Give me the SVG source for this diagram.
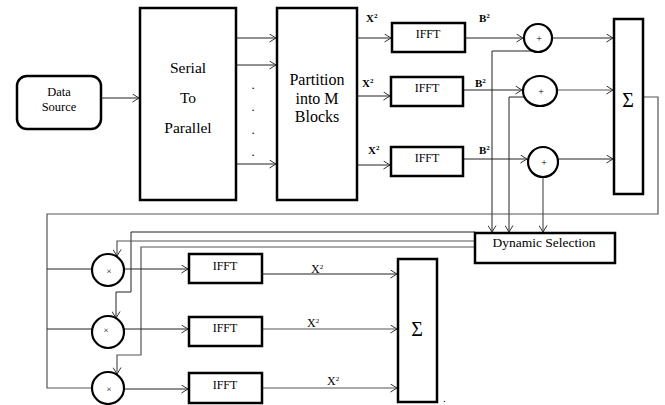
<svg xmlns="http://www.w3.org/2000/svg" width="665" height="405" viewBox="0 0 665 405">
<style>
.box{fill:#fff;stroke:#000;stroke-width:2.5}
.c{fill:#fff;stroke:#000;stroke-width:2.2}
.t{font-family:'Liberation Serif','DejaVu Serif',serif;fill:#000;text-anchor:middle}
.ln{fill:none;stroke:#222;stroke-width:1}
.gl{fill:none;stroke:#555;stroke-width:1.2}
.lb{font-family:'Liberation Serif','DejaVu Serif',serif;fill:#000}
</style>
<defs>
<marker id="a" markerWidth="9" markerHeight="9" refX="7.5" refY="4.5" orient="auto" markerUnits="userSpaceOnUse">
<path d="M1,0.5 L7.5,4.5 L1,8.5" fill="none" stroke="#333" stroke-width="1"/>
</marker>
</defs>
<g id="connectors">
<line class="ln" x1="101" y1="98" x2="139" y2="98" marker-end="url(#a)"/>
<line class="ln" x1="236" y1="38" x2="276" y2="38" marker-end="url(#a)"/>
<line class="ln" x1="236" y1="65" x2="276" y2="65" marker-end="url(#a)"/>
<line class="ln" x1="236" y1="164" x2="276" y2="164" marker-end="url(#a)"/>
<line class="ln" x1="357" y1="38" x2="391" y2="38" marker-end="url(#a)"/>
<line class="ln" x1="357" y1="96" x2="390" y2="96" marker-end="url(#a)"/>
<line class="ln" x1="357" y1="165" x2="390" y2="165" marker-end="url(#a)"/>
<line class="ln" x1="465" y1="38" x2="523" y2="38" marker-end="url(#a)"/>
<line class="ln" x1="463" y1="90" x2="522" y2="90" marker-end="url(#a)"/>
<line class="ln" x1="463" y1="159" x2="527" y2="159" marker-end="url(#a)"/>
<line class="ln" x1="552" y1="38" x2="613" y2="38" marker-end="url(#a)"/>
<line class="gl" x1="557" y1="90" x2="613" y2="90" marker-end="url(#a)"/>
<line class="ln" x1="558" y1="159" x2="613" y2="159" marker-end="url(#a)"/>
<polyline class="ln" points="533,51 492,51 492,232" marker-end="url(#a)"/>
<polyline class="ln" points="524,97 509,97 509,232" marker-end="url(#a)"/>
<polyline class="gl" points="543,177 543,232" marker-end="url(#a)"/>
<polyline class="gl" points="643,97 658,97 658,214 47,214 47,388 92,388"/>
<line class="ln" x1="47" y1="269" x2="92" y2="269"/>
<line class="ln" x1="47" y1="329" x2="92" y2="329"/>
<polyline class="ln" points="475,232 131,232 131,292 116,292 116,318" marker-end="url(#a)"/>
<polyline class="gl" points="475,241 117,241 117,256" marker-end="url(#a)"/>
<polyline class="gl" points="475,247 141,247 141,355 117,355 117,374" marker-end="url(#a)"/>
<line class="ln" x1="124" y1="269" x2="188" y2="269" marker-end="url(#a)"/>
<line class="ln" x1="124" y1="329" x2="188" y2="329" marker-end="url(#a)"/>
<line class="ln" x1="124" y1="389" x2="188" y2="389" marker-end="url(#a)"/>
<line class="ln" x1="262" y1="274" x2="397" y2="274" marker-end="url(#a)"/>
<line class="gl" x1="262" y1="329" x2="397" y2="329" marker-end="url(#a)"/>
<line class="gl" x1="262" y1="388" x2="397" y2="388" marker-end="url(#a)"/>
</g>
<g id="data-source">
<rect class="box" x="17" y="76" width="84" height="53" rx="10"/>
<text class="t" x="59" y="96" font-size="12.5">Data</text>
<text class="t" x="59" y="111" font-size="12.5">Source</text>
</g>
<g id="serial-to-parallel">
<rect class="box" x="140" y="8" width="96" height="192"/>
<text class="t" x="188" y="73" font-size="15.5">Serial</text>
<text class="t" x="188" y="103" font-size="15.5">To</text>
<text class="t" x="188" y="133" font-size="15.5">Parallel</text>
</g>
<g id="dots">
<text class="t" x="253" y="89" font-size="13">.</text>
<text class="t" x="253" y="111" font-size="13">.</text>
<text class="t" x="253" y="134" font-size="13">.</text>
<text class="t" x="253" y="156" font-size="13">.</text>
</g>
<g id="partition">
<rect class="box" x="277" y="8" width="80" height="192"/>
<text class="t" x="317" y="85" font-size="16">Partition</text>
<text class="t" x="317" y="104" font-size="16">into M</text>
<text class="t" x="317" y="122" font-size="16">Blocks</text>
</g>
<g id="labels-top" font-weight="bold">
<text class="lb" x="366" y="22" font-size="11">X<tspan font-size="7" dy="-4">2</tspan></text>
<text class="lb" x="362" y="87" font-size="11">X<tspan font-size="7" dy="-4">2</tspan></text>
<text class="lb" x="368" y="154" font-size="11">X<tspan font-size="7" dy="-4">2</tspan></text>
<text class="lb" x="479" y="22" font-size="11">B<tspan font-size="7" dy="-4">2</tspan></text>
<text class="lb" x="475" y="87" font-size="11">B<tspan font-size="7" dy="-4">2</tspan></text>
<text class="lb" x="479" y="154" font-size="11">B<tspan font-size="7" dy="-4">2</tspan></text>
</g>
<g id="ifft-1">
<rect class="box" x="392" y="23" width="73" height="29"/>
<text class="t" x="428" y="38" font-size="12">IFFT</text>
</g>
<g id="ifft-2">
<rect class="box" x="391" y="77" width="72" height="29"/>
<text class="t" x="427" y="92" font-size="12">IFFT</text>
</g>
<g id="ifft-3">
<rect class="box" x="391" y="147" width="72" height="29"/>
<text class="t" x="427" y="162" font-size="12">IFFT</text>
</g>
<g id="add-1">
<circle class="c" cx="538" cy="38" r="14"/>
<text class="t" x="539" y="42" font-size="10">+</text>
</g>
<g id="add-2">
<ellipse class="c" cx="540" cy="91" rx="17" ry="15"/>
<text class="t" x="541" y="95" font-size="10">+</text>
</g>
<g id="add-3">
<circle class="c" cx="543" cy="162" r="15"/>
<text class="t" x="544" y="166" font-size="10">+</text>
</g>
<g id="sum-1">
<rect class="box" x="614" y="19" width="29" height="175"/>
<text class="t" x="628" y="107" font-size="20">Σ</text>
</g>
<g id="dynamic-selection">
<rect class="box" x="475" y="233" width="140" height="30"/>
<text class="t" x="544" y="247" font-size="13.5">Dynamic Selection</text>
</g>
<g id="mul-1">
<circle class="c" cx="108" cy="270" r="16"/>
<text class="t" x="109" y="274" font-size="9">×</text>
</g>
<g id="mul-2">
<circle class="c" cx="108" cy="332" r="16"/>
<text class="t" x="106" y="333" font-size="9">×</text>
</g>
<g id="mul-3">
<circle class="c" cx="108" cy="388" r="16"/>
<text class="t" x="109" y="392" font-size="9">×</text>
</g>
<g id="ifft-4">
<rect class="box" x="189" y="254" width="73" height="29"/>
<text class="t" x="225" y="270" font-size="12">IFFT</text>
</g>
<g id="ifft-5">
<rect class="box" x="189" y="317" width="73" height="29"/>
<text class="t" x="225" y="332" font-size="12">IFFT</text>
</g>
<g id="ifft-6">
<rect class="box" x="189" y="373" width="73" height="30"/>
<text class="t" x="225" y="389" font-size="12">IFFT</text>
</g>
<g id="labels-bottom">
<text class="lb" x="311" y="273" font-size="12">X<tspan font-size="7" dy="-4">2</tspan></text>
<text class="lb" x="307" y="327" font-size="12">X<tspan font-size="7" dy="-4">2</tspan></text>
<text class="lb" x="327" y="385" font-size="12">X<tspan font-size="7" dy="-4">2</tspan></text>
</g>
<g id="sum-2">
<rect class="box" x="398" y="259" width="39" height="143"/>
<text class="t" x="417" y="336" font-size="20">Σ</text>
</g>
<text class="lb" x="443" y="402" font-size="11">.</text>
</svg>
